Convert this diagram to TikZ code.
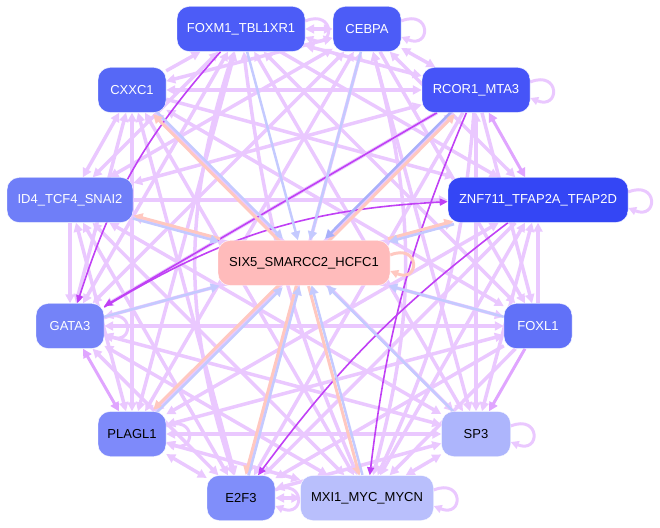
\documentclass[tikz,border=0pt]{standalone}
\usepackage{fontspec}
\setmainfont{Liberation Sans}
\usetikzlibrary{arrows.meta}
\pgfdeclarelayer{bg}
\pgfsetlayers{bg,main}
\definecolor{lpur}{RGB}{234,200,255}
\definecolor{mpur}{RGB}{224,165,255}
\definecolor{dpur}{RGB}{192,64,245}
\definecolor{lblue}{RGB}{196,202,255}
\definecolor{mblue}{RGB}{168,176,250}
\definecolor{salm}{RGB}{255,200,192}
\definecolor{cF}{RGB}{76,92,247}
\definecolor{cR}{RGB}{70,84,248}
\definecolor{cZ}{RGB}{52,70,245}
\definecolor{cX}{RGB}{86,104,246}
\definecolor{cI}{RGB}{111,126,248}
\definecolor{cG}{RGB}{116,131,248}
\definecolor{cL}{RGB}{97,113,248}
\definecolor{cP}{RGB}{126,138,250}
\definecolor{cE}{RGB}{128,142,250}
\definecolor{cS}{RGB}{173,181,252}
\definecolor{cM}{RGB}{185,191,252}
\definecolor{cSix}{RGB}{255,187,187}
\begin{document}
\begin{tikzpicture}[x=1pt,y=1pt,
  tf/.style={rounded corners=12pt,minimum height=45pt,inner sep=0pt,
    font=\fontsize{13}{15}\selectfont,text=white,draw=white,line width=0.4pt},
  tk/.style={tf,text=black},
  eL/.style={draw=lpur,line width=3.5pt,arrows={-Triangle[length=9pt,width=9pt]}},
  eLB/.style={draw=lpur,line width=3.5pt,arrows={Triangle[length=9pt,width=9pt]-Triangle[length=9pt,width=9pt]}},
  eM/.style={draw=mpur,line width=3pt,arrows={-Triangle[length=9pt,width=9pt]}},
  eMB/.style={draw=mpur,line width=3pt,arrows={Triangle[length=9pt,width=9pt]-Triangle[length=9pt,width=9pt]}},
  eD/.style={draw=dpur,line width=1.6pt,arrows={-Triangle[length=8pt,width=7pt]}},
  eBl/.style={draw=lblue,line width=2.5pt,arrows={-Triangle[length=9pt,width=9pt]}},
  eBm/.style={draw=mblue,line width=2.5pt,arrows={-Triangle[length=9pt,width=9pt]}},
  eSa/.style={draw=salm,line width=3pt,arrows={-Triangle[length=9pt,width=9pt]}},
  lpL/.style={draw=lpur,line width=3pt,arrows={-Triangle[length=8pt,width=8pt]}},
  lpS/.style={draw=salm,line width=3pt,arrows={-Triangle[length=8pt,width=8pt]}}
]
\useasboundingbox (0,0) rectangle (660,527);

\node[tf,fill=cF,minimum width=128pt] (F) at (241,498) {FOXM1\_TBL1XR1};
\node[tf,fill=cF,minimum width=68pt] (C) at (367,498) {CEBPA};
\node[tf,fill=cR,minimum width=108pt] (R) at (476,437) {RCOR1\_MTA3};
\node[tf,fill=cX,minimum width=68pt] (X) at (132,437) {CXXC1};
\node[tf,fill=cI,minimum width=126pt] (I) at (70,327) {ID4\_TCF4\_SNAI2};
\node[tf,fill=cZ,minimum width=180pt] (Z) at (538,327) {ZNF711\_TFAP2A\_TFAP2D};
\node[tk,fill=cSix,minimum width=172pt] (SIX) at (304,264) {SIX5\_SMARCC2\_HCFC1};
\node[tf,fill=cG,minimum width=68pt] (G) at (70,201) {GATA3};
\node[tf,fill=cL,minimum width=68pt] (L) at (538,201) {FOXL1};
\node[tk,fill=cP,minimum width=68pt] (P) at (132,93) {PLAGL1};
\node[tk,fill=cS,minimum width=69pt] (S) at (476,93) {SP3};
\node[tk,fill=cE,minimum width=68pt] (E) at (241,29) {E2F3};
\node[tk,fill=cM,minimum width=133pt] (M) at (367,29) {MXI1\_MYC\_MYCN};

\begin{pgfonlayer}{bg}
% outer network
\draw[eLB] (F) -- (C);
\draw[eLB] (F) -- (R);
\draw[eL] (F) -- (Z);
\draw[eLB] (F) -- (L);
\draw[eLB] (F) -- (S);
\draw[eLB] (F) to[bend right=8] (M);
\draw[eLB] (F) to[bend right=18] (E);
\draw[eLB] (F) -- (P);
\draw[eLB] (F) -- (G);
\draw[eLB] (F) -- (I);
\draw[eL] (X) -- (F);
\draw[eLB] (C) -- (R);
\draw[eLB] (C) -- (Z);
\draw[eL] (C) -- (L);
\draw[eLB] (C) -- (S);
\draw[eLB] (C) to[bend left=15] (M);
\draw[eLB] (C) -- (E);
\draw[eLB] (C) -- (P);
\draw[eLB] (C) -- (G);
\draw[eLB] (C) -- (I);
\draw[eLB] (C) -- (X);
\draw[eMB] (R) -- (Z);
\draw[eL] (R) -- (L);
\draw[eLB] (R) -- (S);
\draw[eL] (R) to[bend left=10] (M);
\draw[eL] (R) -- (E);
\draw[eLB] (R) -- (P);
\draw[eL] (R) -- (G);
\draw[eLB] (R) -- (I);
\draw[eLB] (R) -- (X);
\draw[eL] (L) -- (Z);
\draw[eLB] (Z) -- (S);
\draw[eLB] (Z) -- (M);
\draw[eL] (Z) -- (E);
\draw[eLB] (Z) -- (P);
\draw[eLB] (Z) -- (G);
\draw[eL] (I) -- (Z);
\draw[eL] (X) -- (Z);
\draw[eM] (L) -- (S);
\draw[eL] (L) -- (M);
\draw[eL] (L) -- (E);
\draw[eLB] (L) -- (P);
\draw[eLB] (L) -- (G);
\draw[eLB] (L) -- (I);
\draw[eLB] (L) -- (X);
\draw[eLB] (S) -- (M);
\draw[eLB] (S) -- (E);
\draw[eLB] (S) -- (P);
\draw[eLB] (S) -- (G);
\draw[eLB] (S) -- (I);
\draw[eLB] (S) -- (X);
\draw[eLB] (E) -- (M);
\draw[eLB] (M) -- (P);
\draw[eLB] (M) -- (G);
\draw[eLB] (M) -- (I);
\draw[eLB] (M) -- (X);
\draw[eLB] (E) -- (P);
\draw[eLB] (E) -- (G);
\draw[eLB] (E) -- (I);
\draw[eLB] (E) -- (X);
\draw[eMB] (G) -- (P);
\draw[eLB] (P) -- (I);
\draw[eLB] (P) -- (X);
\draw[eL] (I) -- (G);
\draw[eLB] (G) -- (X);
\draw[eLB] (I) -- (X);
% dark edges
\draw[eD] (R) -- (G);
\draw[eD] (F) to[bend right=12] (G);
\draw[eD] (G) to[bend left=14] (Z);
\draw[eD] (Z) to[bend right=8] (E);
\draw[eD] (R) to[bend right=8] (M);
% self loops
\draw[lpL] ([yshift=8pt]F.east) .. controls +(30,12) and +(30,-12) .. ([yshift=-8pt]F.east);
\draw[lpL] ([yshift=8pt]C.east) .. controls +(30,12) and +(30,-12) .. ([yshift=-8pt]C.east);
\draw[lpL] ([yshift=8pt]R.east) .. controls +(30,12) and +(30,-12) .. ([yshift=-8pt]R.east);
\draw[lpL] ([yshift=8pt]Z.east) .. controls +(30,12) and +(30,-12) .. ([yshift=-8pt]Z.east);
\draw[lpL] ([yshift=8pt]S.east) .. controls +(30,12) and +(30,-12) .. ([yshift=-8pt]S.east);
\draw[lpL] ([yshift=8pt]M.east) .. controls +(30,12) and +(30,-12) .. ([yshift=-8pt]M.east);
\draw[lpL] ([yshift=8pt]E.east) .. controls +(30,12) and +(30,-12) .. ([yshift=-8pt]E.east);
\draw[lpL] ([yshift=8pt]G.east) .. controls +(30,12) and +(30,-12) .. ([yshift=-8pt]G.east);
\draw[lpL] ([yshift=8pt]P.east) .. controls +(30,12) and +(30,-12) .. ([yshift=-8pt]P.east);
\draw[lpS] ([yshift=8pt]SIX.east) .. controls +(30,12) and +(30,-12) .. ([yshift=-8pt]SIX.east);
% centre edges
\draw[eBl] (F) -- (SIX);
\draw[eBl] (C) -- (SIX);
\draw[eBl] (G) -- (SIX);
\draw[eBl] (L) -- (SIX);
\draw[eBl] (S) -- (SIX);
\draw[eBl,transform canvas={shift={(1.5pt,1.5pt)}}] (X) -- (SIX);
\draw[eSa,transform canvas={shift={(-1.5pt,-1.5pt)}}] (SIX) -- (X);
\draw[eSa,transform canvas={shift={(0.4pt,1.5pt)}}] (SIX) -- (I);
\draw[eBl,transform canvas={shift={(-0.4pt,-1.5pt)}}] (I) -- (SIX);
\draw[eSa,transform canvas={shift={(1.5pt,-1.5pt)}}] (SIX) -- (R);
\draw[eBm,transform canvas={shift={(-1.5pt,1.5pt)}}] (R) -- (SIX);
\draw[eSa,transform canvas={shift={(-0.4pt,1.5pt)}}] (SIX) -- (Z);
\draw[eBl,transform canvas={shift={(0.4pt,-1.5pt)}}] (Z) -- (SIX);
\draw[eSa,transform canvas={shift={(-1.5pt,1.5pt)}}] (SIX) -- (P);
\draw[eBl,transform canvas={shift={(1.5pt,-1.5pt)}}] (P) -- (SIX);
\draw[eSa,transform canvas={shift={(-1.5pt,0.4pt)}}] (SIX) -- (E);
\draw[eBl,transform canvas={shift={(1.5pt,-0.4pt)}}] (E) -- (SIX);
\draw[eSa,transform canvas={shift={(-1.5pt,-0.4pt)}}] (SIX) -- (M);
\draw[eBl,transform canvas={shift={(1.5pt,0.4pt)}}] (M) -- (SIX);
\end{pgfonlayer}
\end{tikzpicture}
\end{document}
